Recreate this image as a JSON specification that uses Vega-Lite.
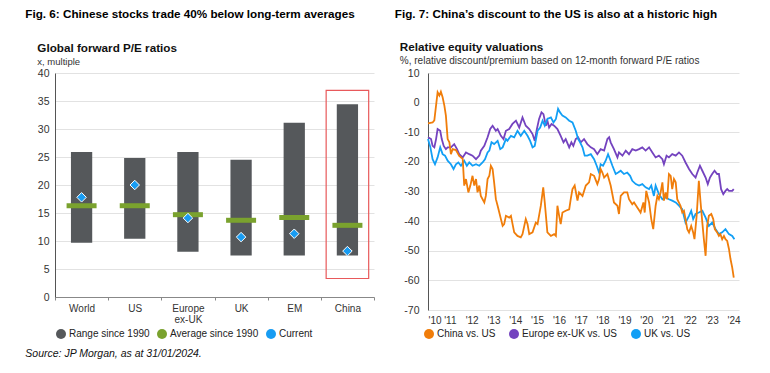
{
  "$schema": "https://vega.github.io/schema/vega-lite/v6.json",
  "background": "white",
  "padding": {"left": 25, "top": 8, "right": 5, "bottom": 5},
  "config": {
    "font": "Liberation Sans",
    "view": {"stroke": null},
    "axis": {"labelFont": "Liberation Sans", "labelColor": "#333", "labelFontSize": 10.5},
    "legend": {"labelFont": "Liberation Sans"},
    "title": {"font": "Liberation Sans", "subtitleFont": "Liberation Sans"}
  },
  "title": {"text": "Source: JP Morgan, as at 31/01/2024.", "orient": "bottom", "anchor": "start", "fontSize": 10.5, "fontStyle": "italic", "fontWeight": "normal", "color": "#111", "offset": 10},
  "spacing": 19,
  "resolve": {"scale": {"color": "independent"}, "legend": {"color": "independent"}},
  "datasets": {
    "pe": [
      {"region": "World", "low": 9.7, "high": 25.9, "avg": 16.3, "current": 17.8},
      {"region": "US", "low": 10.4, "high": 24.8, "avg": 16.3, "current": 20.0},
      {"region": "Europe ex-UK", "low": 8.1, "high": 25.9, "avg": 14.7, "current": 14.1},
      {"region": "UK", "low": 7.4, "high": 24.5, "avg": 13.7, "current": 10.7},
      {"region": "EM", "low": 7.4, "high": 31.1, "avg": 14.2, "current": 11.3},
      {"region": "China", "low": 7.4, "high": 34.4, "avg": 12.8, "current": 8.2}
    ],
    "box": [{"region": "China", "lo": 3.3, "hi": 36.9}],
    "years": [{"t": 2010}, {"t": 2011}, {"t": 2012}, {"t": 2013}, {"t": 2014}, {"t": 2015}, {"t": 2016}, {"t": 2017}, {"t": 2018}, {"t": 2019}, {"t": 2020}, {"t": 2021}, {"t": 2022}, {"t": 2023}, {"t": 2024}],
    "china": [
      {"t": 2010.00, "v": -7}, {"t": 2010.21, "v": -6.7}, {"t": 2010.29, "v": -6}, {"t": 2010.44, "v": 3.5}, {"t": 2010.52, "v": 2.4}, {"t": 2010.59, "v": 3.7}, {"t": 2010.67, "v": 1.8}, {"t": 2010.75, "v": -1}, {"t": 2010.82, "v": -4.4}, {"t": 2010.90, "v": -12.3}, {"t": 2010.98, "v": -13.4}, {"t": 2011.05, "v": -17.4}, {"t": 2011.13, "v": -15.7}, {"t": 2011.28, "v": -16}, {"t": 2011.43, "v": -18}, {"t": 2011.59, "v": -19}, {"t": 2011.66, "v": -28}, {"t": 2011.74, "v": -25.8}, {"t": 2011.85, "v": -30.3}, {"t": 2011.94, "v": -28},
      {"t": 2012.04, "v": -24.7}, {"t": 2012.12, "v": -28}, {"t": 2012.20, "v": -25.8}, {"t": 2012.27, "v": -30.3}, {"t": 2012.35, "v": -28}, {"t": 2012.42, "v": -31.5}, {"t": 2012.58, "v": -33.7}, {"t": 2012.65, "v": -31.5}, {"t": 2012.73, "v": -25.8}, {"t": 2012.81, "v": -24.7}, {"t": 2012.88, "v": -21.3}, {"t": 2012.96, "v": -22.4}, {"t": 2013.03, "v": -26.9}, {"t": 2013.11, "v": -32.6}, {"t": 2013.19, "v": -34.8}, {"t": 2013.34, "v": -39.3}, {"t": 2013.42, "v": -41.6}, {"t": 2013.49, "v": -41}, {"t": 2013.57, "v": -38.2}, {"t": 2013.72, "v": -38.8}, {"t": 2013.80, "v": -38.2}, {"t": 2013.95, "v": -43.8},
      {"t": 2014.10, "v": -45}, {"t": 2014.25, "v": -45.5}, {"t": 2014.33, "v": -44.4}, {"t": 2014.48, "v": -39.3}, {"t": 2014.56, "v": -41}, {"t": 2014.64, "v": -44.4}, {"t": 2014.79, "v": -43.8}, {"t": 2014.94, "v": -40.5}, {"t": 2015.02, "v": -41}, {"t": 2015.17, "v": -34.8}, {"t": 2015.28, "v": -28.6}, {"t": 2015.35, "v": -33.7}, {"t": 2015.47, "v": -43.8}, {"t": 2015.63, "v": -45}, {"t": 2015.78, "v": -44.4}, {"t": 2015.86, "v": -45}, {"t": 2015.93, "v": -34.8}, {"t": 2016.01, "v": -38.2}, {"t": 2016.08, "v": -41}, {"t": 2016.16, "v": -37.1}, {"t": 2016.31, "v": -36.5}, {"t": 2016.47, "v": -36}, {"t": 2016.54, "v": -32.6}, {"t": 2016.62, "v": -29.2}, {"t": 2016.72, "v": -28}, {"t": 2016.85, "v": -33.1}, {"t": 2016.92, "v": -30.3},
      {"t": 2017.08, "v": -31.5}, {"t": 2017.23, "v": -28}, {"t": 2017.38, "v": -26.9}, {"t": 2017.46, "v": -24.1}, {"t": 2017.61, "v": -24.7}, {"t": 2017.76, "v": -27.5}, {"t": 2017.84, "v": -25.8}, {"t": 2017.91, "v": -22.4}, {"t": 2017.99, "v": -23.6}, {"t": 2018.07, "v": -25.3}, {"t": 2018.22, "v": -24.1}, {"t": 2018.37, "v": -28}, {"t": 2018.52, "v": -33.7}, {"t": 2018.68, "v": -34.8}, {"t": 2018.75, "v": -37.6}, {"t": 2018.83, "v": -31.5}, {"t": 2018.98, "v": -30.3}, {"t": 2019.13, "v": -30.3}, {"t": 2019.21, "v": -32.6}, {"t": 2019.36, "v": -34.3}, {"t": 2019.44, "v": -33.7}, {"t": 2019.59, "v": -35.4}, {"t": 2019.74, "v": -37.1}, {"t": 2019.87, "v": -33.7}, {"t": 2019.93, "v": -37.1},
      {"t": 2020.00, "v": -29.8}, {"t": 2020.13, "v": -33.7}, {"t": 2020.23, "v": -39.3}, {"t": 2020.32, "v": -42.7}, {"t": 2020.43, "v": -34.8}, {"t": 2020.51, "v": -31.5}, {"t": 2020.58, "v": -32.6}, {"t": 2020.66, "v": -30.3}, {"t": 2020.74, "v": -26.9}, {"t": 2020.81, "v": -33.1}, {"t": 2020.89, "v": -30.3}, {"t": 2020.96, "v": -32.6}, {"t": 2021.04, "v": -24.1}, {"t": 2021.12, "v": -24.7}, {"t": 2021.19, "v": -29.2}, {"t": 2021.27, "v": -25.8}, {"t": 2021.35, "v": -26.9}, {"t": 2021.42, "v": -32.6}, {"t": 2021.57, "v": -34.8}, {"t": 2021.65, "v": -37.1}, {"t": 2021.73, "v": -36.5}, {"t": 2021.80, "v": -39.3}, {"t": 2021.88, "v": -42.7}, {"t": 2021.96, "v": -43.8},
      {"t": 2022.06, "v": -41.6}, {"t": 2022.15, "v": -43.8}, {"t": 2022.21, "v": -46.1}, {"t": 2022.31, "v": -38.2}, {"t": 2022.41, "v": -26.4}, {"t": 2022.49, "v": -33.7}, {"t": 2022.57, "v": -40.5}, {"t": 2022.64, "v": -46.1}, {"t": 2022.72, "v": -51.7}, {"t": 2022.79, "v": -41.6}, {"t": 2022.87, "v": -38.2}, {"t": 2022.98, "v": -37.6}, {"t": 2023.07, "v": -39.3}, {"t": 2023.14, "v": -42.7}, {"t": 2023.25, "v": -43.8}, {"t": 2023.33, "v": -45}, {"t": 2023.40, "v": -44.4}, {"t": 2023.48, "v": -46.1}, {"t": 2023.56, "v": -45}, {"t": 2023.63, "v": -46.1}, {"t": 2023.71, "v": -46.7}, {"t": 2023.79, "v": -49.4}, {"t": 2023.86, "v": -52.8}, {"t": 2023.94, "v": -55.7}, {"t": 2024.01, "v": -59.1}
    ],
    "europe": [
      {"t": 2010.00, "v": -11.7}, {"t": 2010.14, "v": -12.3}, {"t": 2010.21, "v": -14.6}, {"t": 2010.29, "v": -15.1}, {"t": 2010.37, "v": -12.3}, {"t": 2010.44, "v": -8.9}, {"t": 2010.56, "v": -9.5}, {"t": 2010.63, "v": -12.3}, {"t": 2010.72, "v": -14.6}, {"t": 2010.82, "v": -15.7}, {"t": 2010.90, "v": -15.1}, {"t": 2011.05, "v": -15.1}, {"t": 2011.20, "v": -14}, {"t": 2011.33, "v": -15.7}, {"t": 2011.43, "v": -17.4}, {"t": 2011.59, "v": -18.5}, {"t": 2011.74, "v": -16.8}, {"t": 2011.89, "v": -17.4},
      {"t": 2012.04, "v": -17.9}, {"t": 2012.20, "v": -19.1}, {"t": 2012.35, "v": -17.9}, {"t": 2012.42, "v": -16.2}, {"t": 2012.58, "v": -14.6}, {"t": 2012.73, "v": -11.7}, {"t": 2012.85, "v": -8.9}, {"t": 2012.96, "v": -7.8}, {"t": 2013.11, "v": -9.5}, {"t": 2013.19, "v": -8.9}, {"t": 2013.34, "v": -11.2}, {"t": 2013.46, "v": -12.3}, {"t": 2013.57, "v": -9.5}, {"t": 2013.72, "v": -8.9}, {"t": 2013.87, "v": -7.2},
      {"t": 2014.03, "v": -6.1}, {"t": 2014.18, "v": -8.4}, {"t": 2014.33, "v": -5}, {"t": 2014.48, "v": -7.8}, {"t": 2014.64, "v": -8.9}, {"t": 2014.79, "v": -10.6}, {"t": 2014.89, "v": -12.9}, {"t": 2014.99, "v": -8.9}, {"t": 2015.09, "v": -5.5}, {"t": 2015.20, "v": -3.3}, {"t": 2015.29, "v": -3.9}, {"t": 2015.40, "v": -7.8}, {"t": 2015.47, "v": -6.1}, {"t": 2015.55, "v": -8.4}, {"t": 2015.66, "v": -7.2}, {"t": 2015.78, "v": -7.8}, {"t": 2015.93, "v": -8.9},
      {"t": 2016.08, "v": -11.2}, {"t": 2016.21, "v": -13.4}, {"t": 2016.31, "v": -12.3}, {"t": 2016.47, "v": -15.1}, {"t": 2016.57, "v": -13.4}, {"t": 2016.66, "v": -14.6}, {"t": 2016.77, "v": -12.3}, {"t": 2016.88, "v": -11.7}, {"t": 2017.00, "v": -13.4}, {"t": 2017.15, "v": -12.3}, {"t": 2017.30, "v": -14}, {"t": 2017.46, "v": -15.1}, {"t": 2017.61, "v": -15.7}, {"t": 2017.76, "v": -17.4}, {"t": 2017.91, "v": -15.7},
      {"t": 2018.07, "v": -16.2}, {"t": 2018.22, "v": -12.3}, {"t": 2018.30, "v": -11.7}, {"t": 2018.37, "v": -13.4}, {"t": 2018.52, "v": -15.7}, {"t": 2018.68, "v": -18.5}, {"t": 2018.75, "v": -16.8}, {"t": 2018.91, "v": -17.9}, {"t": 2019.06, "v": -16.2}, {"t": 2019.21, "v": -17.4}, {"t": 2019.36, "v": -15.7}, {"t": 2019.52, "v": -16.2}, {"t": 2019.67, "v": -15.7}, {"t": 2019.82, "v": -15.1}, {"t": 2019.97, "v": -16.2},
      {"t": 2020.13, "v": -15.1}, {"t": 2020.28, "v": -16.8}, {"t": 2020.43, "v": -18.5}, {"t": 2020.58, "v": -17.9}, {"t": 2020.74, "v": -19.1}, {"t": 2020.81, "v": -20.8}, {"t": 2020.93, "v": -17.9}, {"t": 2021.04, "v": -18.5}, {"t": 2021.19, "v": -17.4}, {"t": 2021.35, "v": -17.9}, {"t": 2021.50, "v": -16.8}, {"t": 2021.65, "v": -17.9}, {"t": 2021.80, "v": -20.2}, {"t": 2021.96, "v": -22.4},
      {"t": 2022.11, "v": -24.1}, {"t": 2022.26, "v": -25.3}, {"t": 2022.34, "v": -23.6}, {"t": 2022.46, "v": -21.3}, {"t": 2022.57, "v": -23}, {"t": 2022.72, "v": -25.3}, {"t": 2022.82, "v": -27.5}, {"t": 2022.92, "v": -25.3}, {"t": 2023.02, "v": -24.1}, {"t": 2023.13, "v": -23}, {"t": 2023.25, "v": -24.1}, {"t": 2023.33, "v": -24.1}, {"t": 2023.43, "v": -29.2}, {"t": 2023.53, "v": -30.9}, {"t": 2023.63, "v": -29.8}, {"t": 2023.71, "v": -29.2}, {"t": 2023.79, "v": -29.8}, {"t": 2023.94, "v": -29.8}, {"t": 2024.01, "v": -29.2}
    ],
    "uk": [
      {"t": 2010.00, "v": -12.3}, {"t": 2010.11, "v": -15.1}, {"t": 2010.21, "v": -19.1}, {"t": 2010.32, "v": -20.8}, {"t": 2010.44, "v": -18.5}, {"t": 2010.56, "v": -15.1}, {"t": 2010.67, "v": -17.4}, {"t": 2010.78, "v": -17.9}, {"t": 2010.90, "v": -19.6}, {"t": 2011.05, "v": -20.8}, {"t": 2011.17, "v": -22.4}, {"t": 2011.28, "v": -20.8}, {"t": 2011.39, "v": -20.2}, {"t": 2011.51, "v": -21.3}, {"t": 2011.66, "v": -19.6}, {"t": 2011.78, "v": -21.3}, {"t": 2011.89, "v": -20.2},
      {"t": 2012.04, "v": -21.3}, {"t": 2012.20, "v": -20.8}, {"t": 2012.35, "v": -21.3}, {"t": 2012.50, "v": -20.2}, {"t": 2012.61, "v": -19.1}, {"t": 2012.73, "v": -16.8}, {"t": 2012.81, "v": -16.2}, {"t": 2012.91, "v": -13.4}, {"t": 2013.03, "v": -14}, {"t": 2013.19, "v": -12.9}, {"t": 2013.31, "v": -15.7}, {"t": 2013.42, "v": -15.1}, {"t": 2013.57, "v": -12.3}, {"t": 2013.64, "v": -12.9}, {"t": 2013.80, "v": -11.2}, {"t": 2013.95, "v": -11.7},
      {"t": 2014.10, "v": -9.5}, {"t": 2014.25, "v": -11.2}, {"t": 2014.41, "v": -9.5}, {"t": 2014.56, "v": -11.2}, {"t": 2014.68, "v": -12.9}, {"t": 2014.79, "v": -15.1}, {"t": 2014.89, "v": -14.6}, {"t": 2015.02, "v": -9.5}, {"t": 2015.14, "v": -8.4}, {"t": 2015.25, "v": -6.1}, {"t": 2015.35, "v": -7.8}, {"t": 2015.47, "v": -5.5}, {"t": 2015.63, "v": -5}, {"t": 2015.75, "v": -6.7}, {"t": 2015.86, "v": -5.5}, {"t": 2015.96, "v": -2.1},
      {"t": 2016.05, "v": -3.3}, {"t": 2016.16, "v": -4.4}, {"t": 2016.31, "v": -5}, {"t": 2016.47, "v": -6.1}, {"t": 2016.62, "v": -6.7}, {"t": 2016.77, "v": -9.5}, {"t": 2016.88, "v": -12.3}, {"t": 2016.97, "v": -13.4}, {"t": 2017.08, "v": -15.1}, {"t": 2017.18, "v": -17.9}, {"t": 2017.30, "v": -17.9}, {"t": 2017.46, "v": -17.4}, {"t": 2017.61, "v": -19.1}, {"t": 2017.73, "v": -21.3}, {"t": 2017.84, "v": -23.6}, {"t": 2017.91, "v": -20.8},
      {"t": 2018.02, "v": -21.3}, {"t": 2018.14, "v": -19.6}, {"t": 2018.25, "v": -17.4}, {"t": 2018.34, "v": -19.1}, {"t": 2018.45, "v": -21.3}, {"t": 2018.60, "v": -24.1}, {"t": 2018.71, "v": -23.6}, {"t": 2018.83, "v": -23}, {"t": 2018.98, "v": -24.1}, {"t": 2019.13, "v": -23.6}, {"t": 2019.26, "v": -24.7}, {"t": 2019.36, "v": -26.4}, {"t": 2019.52, "v": -27.5}, {"t": 2019.67, "v": -28}, {"t": 2019.82, "v": -27.5}, {"t": 2019.97, "v": -28.6},
      {"t": 2020.13, "v": -29.2}, {"t": 2020.23, "v": -28}, {"t": 2020.35, "v": -31.5}, {"t": 2020.43, "v": -28}, {"t": 2020.58, "v": -30.9}, {"t": 2020.74, "v": -32.6}, {"t": 2020.89, "v": -32}, {"t": 2021.04, "v": -32.6}, {"t": 2021.19, "v": -33.1}, {"t": 2021.35, "v": -33.7}, {"t": 2021.50, "v": -34.8}, {"t": 2021.65, "v": -36}, {"t": 2021.80, "v": -40.5}, {"t": 2021.96, "v": -38.2},
      {"t": 2022.06, "v": -36.5}, {"t": 2022.15, "v": -39.3}, {"t": 2022.26, "v": -37.6}, {"t": 2022.41, "v": -37.1}, {"t": 2022.57, "v": -36.5}, {"t": 2022.72, "v": -38.8}, {"t": 2022.87, "v": -41.6}, {"t": 2023.02, "v": -40.5}, {"t": 2023.18, "v": -42.7}, {"t": 2023.33, "v": -44.4}, {"t": 2023.48, "v": -43.8}, {"t": 2023.63, "v": -42.7}, {"t": 2023.79, "v": -44.4}, {"t": 2023.94, "v": -45}, {"t": 2024.04, "v": -46.1}
    ]
  },
  "hconcat": [
    {
      "title": {"text": "Fig. 6: Chinese stocks trade 40% below long-term averages", "anchor": "start", "fontSize": 11.7, "fontWeight": "bold", "color": "#000", "offset": 22, "dx": -12},
      "vconcat": [
        {
          "width": 319,
          "height": 224,
          "title": {"text": "Global forward P/E ratios", "subtitle": "x, multiple", "anchor": "start", "fontSize": 11.7, "fontWeight": "bold", "color": "#111", "subtitleFontSize": 9.5, "subtitleColor": "#333", "subtitlePadding": 2, "offset": 2},
          "data": {"name": "pe"},
          "encoding": {
            "x": {"field": "region", "type": "nominal", "sort": null, "scale": {"paddingInner": 0, "paddingOuter": 0},
              "axis": {"title": null, "labelAngle": 0, "tickBand": "extent", "tickSize": 3, "tickColor": "#888", "domainColor": "#888", "labelPadding": 3, "labelFontSize": 10, "labelLineHeight": 11, "labelExpr": "datum.value == 'Europe ex-UK' ? ['Europe', 'ex-UK'] : datum.label"}}
          },
          "layer": [
            {
              "mark": {"type": "bar", "width": {"band": 0.4}},
              "encoding": {
                "y": {"field": "low", "type": "quantitative", "title": null, "scale": {"domain": [0, 40], "nice": false},
                  "axis": {"values": [0, 5, 10, 15, 20, 25, 30, 35, 40], "grid": true, "gridColor": "#e2e2e2", "domainColor": "#555", "ticks": false, "labelPadding": 6}},
                "y2": {"field": "high"},
                "color": {"datum": "Range since 1990", "type": "nominal",
                  "scale": {"domain": ["Range since 1990", "Average since 1990", "Current"], "range": ["#55585b", "#7aa22e", "#189cf2"]},
                  "legend": {"title": null, "orient": "none", "legendX": 0, "legendY": 255, "direction": "horizontal", "symbolType": "circle", "symbolSize": 100, "labelFontSize": 10, "labelColor": "#222", "columnPadding": 6, "labelOffset": 2, "symbolOpacity": 1, "padding": 0}}
              }
            },
            {
              "mark": {"type": "tick", "size": 30, "thickness": 5, "opacity": 1},
              "encoding": {
                "y": {"field": "avg", "type": "quantitative", "title": null,
                  "axis": {"values": [0, 5, 10, 15, 20, 25, 30, 35, 40], "grid": true, "gridColor": "#e2e2e2", "domainColor": "#555", "ticks": false, "labelPadding": 6}},
                "color": {"datum": "Average since 1990", "type": "nominal"}
              }
            },
            {
              "mark": {"type": "point", "shape": "diamond", "filled": true, "size": 90, "stroke": "white", "strokeWidth": 1, "opacity": 1},
              "encoding": {
                "y": {"field": "current", "type": "quantitative", "title": null,
                  "axis": {"values": [0, 5, 10, 15, 20, 25, 30, 35, 40], "grid": true, "gridColor": "#e2e2e2", "domainColor": "#555", "ticks": false, "labelPadding": 6}},
                "color": {"datum": "Current", "type": "nominal"}
              }
            },
            {
              "data": {"name": "box"},
              "mark": {"type": "bar", "width": {"band": 0.8}, "fillOpacity": 0, "stroke": "#e8595b", "strokeWidth": 1.2},
              "encoding": {
                "y": {"field": "lo", "type": "quantitative", "title": null,
                  "axis": {"values": [0, 5, 10, 15, 20, 25, 30, 35, 40], "grid": true, "gridColor": "#e2e2e2", "domainColor": "#555", "ticks": false, "labelPadding": 6}},
                "y2": {"field": "hi"}
              }
            }
          ]
        }
      ]
    },
    {
      "title": {"text": "Fig. 7: China’s discount to the US is also at a historic high", "anchor": "start", "fontSize": 11.7, "fontWeight": "bold", "color": "#000", "offset": 22, "dx": -5},
      "vconcat": [
        {
          "width": 311,
          "height": 237,
          "title": {"text": "Relative equity valuations", "subtitle": "%, relative discount/premium based on 12-month forward P/E ratios", "anchor": "start", "fontSize": 11.7, "fontWeight": "bold", "color": "#111", "subtitleFontSize": 10, "subtitleColor": "#333", "subtitlePadding": 2, "offset": 2, "dx": -4},
          "encoding": {
            "x": {"field": "t", "type": "quantitative", "title": null, "scale": {"domain": [2010, 2024.25], "nice": false, "zero": false},
              "axis": {"values": [2010, 2011, 2012, 2013, 2014, 2015, 2016, 2017, 2018, 2019, 2020, 2021, 2022, 2023, 2024], "grid": false, "domain": false, "ticks": false, "labelPadding": 5, "labelFontSize": 10, "labelExpr": "\"'\" + substring(toString(datum.value), 2)"}},
            "y": {"field": "v", "type": "quantitative", "title": null, "scale": {"domain": [-70, 10], "nice": false},
              "axis": {"values": [-70, -60, -50, -40, -30, -20, -10, 0, 10], "grid": true, "gridColor": "#e2e2e2", "domainColor": "#555", "ticks": false, "labelPadding": 9, "labelExpr": "toString(datum.value)"}}
          },
          "layer": [
            {
              "data": {"values": [{}]},
              "mark": {"type": "rule", "color": "#555", "strokeWidth": 1},
              "encoding": {"x": null, "y": {"datum": 0}}
            },
            {
              "data": {"name": "years"},
              "mark": {"type": "tick", "orient": "vertical", "size": 5, "thickness": 1, "color": "#555"},
              "encoding": {"y": {"datum": 0}}
            },
            {
              "data": {"name": "europe"},
              "mark": {"type": "line", "strokeWidth": 1.8},
              "encoding": {
                "color": {"datum": "Europe ex-UK vs. US", "type": "nominal",
                  "scale": {"domain": ["China vs. US", "Europe ex-UK vs. US", "UK vs. US"], "range": ["#f07d0a", "#7443bf", "#129ff5"]},
                  "legend": {"title": null, "orient": "none", "legendX": -4, "legendY": 256, "direction": "horizontal", "symbolType": "circle", "symbolSize": 100, "symbolStrokeWidth": 0, "labelFontSize": 10, "labelColor": "#222", "columnPadding": 13, "labelOffset": 3, "symbolOpacity": 1, "padding": 0,
                    "encode": {"symbols": {"update": {"fill": {"signal": "datum.value === 'China vs. US' ? '#f07d0a' : datum.value === 'UK vs. US' ? '#129ff5' : '#7443bf'"}, "fillOpacity": {"value": 1}}}}}}
              }
            },
            {
              "data": {"name": "uk"},
              "mark": {"type": "line", "strokeWidth": 1.8},
              "encoding": {"color": {"datum": "UK vs. US", "type": "nominal"}}
            },
            {
              "data": {"name": "china"},
              "mark": {"type": "line", "strokeWidth": 1.8},
              "encoding": {"color": {"datum": "China vs. US", "type": "nominal"}}
            },
            {
              "data": {"values": [{}]},
              "mark": {"type": "text", "align": "right", "baseline": "top", "fontSize": 10, "lineHeight": 10, "color": "#222", "text": ["Discount widening", "vs. the US market"]},
              "encoding": {"x": {"datum": 2023.29}, "y": {"datum": -4.8}}
            },
            {
              "data": {"values": [{}]},
              "mark": {"type": "rule", "color": "#222", "strokeWidth": 1},
              "encoding": {"x": {"datum": 2023.59}, "y": {"datum": -3.2}, "y2": {"datum": -15.6}}
            },
            {
              "data": {"values": [{}]},
              "mark": {"type": "point", "shape": "M-1,-0.7L0,0L1,-0.7", "filled": false, "size": 50, "stroke": "#222", "strokeWidth": 1.2, "opacity": 1},
              "encoding": {"x": {"datum": 2023.59}, "y": {"datum": -15.7}}
            }
          ]
        }
      ]
    }
  ]
}
